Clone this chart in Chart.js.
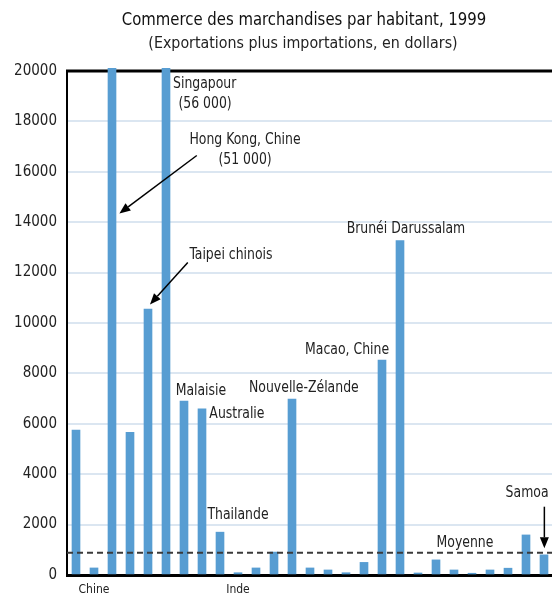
<!DOCTYPE html>
<html>
<head>
<meta charset="utf-8">
<script src="https://cdn.jsdelivr.net/npm/chart.js@4.4.1/dist/chart.umd.min.js"></script>
<style>
html,body{margin:0;padding:0;overflow:hidden;background:#fff;}
#wrap{width:556px;height:598px;}
</style>
</head>
<body>
<div id="wrap"><canvas id="c" width="556" height="598"></canvas></div>
<script>
// ---- data ----
const categories = ['', 'Chine', 'Hong Kong, Chine', '', 'Taipei chinois', 'Singapour', 'Malaisie', 'Australie', 'Thailande', 'Inde',
  '', '', 'Nouvelle-Zélande', '', '', '', '', 'Macao, Chine', 'Brunéi Darussalam', '',
  '', '', '', '', '', '', 'Samoa'];
const tickLabels = ['', 'Chine', '', '', '', '', '', '', '', 'Inde',
  '', '', '', '', '', '', '', '', '', '',
  '', '', '', '', '', '', ''];
const values = [5750, 280, 51000, 5660, 10550, 56000, 6900, 6590, 1700, 90,
  280, 910, 6980, 280, 200, 90, 500, 8530, 13270, 80,
  600, 200, 70, 200, 270, 1590, 800];
const averageValue = 885;
const yTickValues = [0, 2000, 4000, 6000, 8000, 10000, 12000, 14000, 16000, 18000, 20000];
const titleText = 'Commerce des marchandises par habitant, 1999';
const subtitleText = '(Exportations plus importations, en dollars)';

// annotation texts anchored in data space (x = category index, y = value)
const notes = [
  {text: 'Singapour', x: 5.39, y: 19480, align: 'left'},
  {text: '(56 000)', x: 7.17, y: 18690, align: 'center'},
  {text: 'Hong Kong, Chine', x: 9.39, y: 17270, align: 'center'},
  {text: '(51 000)', x: 9.39, y: 16480, align: 'center'},
  {text: 'Taipei chinois', x: 8.61, y: 12710, align: 'center'},
  {text: 'Malaisie', x: 6.94, y: 7290, align: 'center'},
  {text: 'Australie', x: 8.94, y: 6405, align: 'center'},
  {text: 'Thailande', x: 9.0, y: 2381, align: 'center'},
  {text: 'Nouvelle-Zélande', x: 12.66, y: 7420, align: 'center'},
  {text: 'Macao, Chine', x: 15.06, y: 8952, align: 'center'},
  {text: 'Brunéi Darussalam', x: 18.33, y: 13730, align: 'center'},
  {text: 'Moyenne', x: 21.61, y: 1294, align: 'center'},
  {text: 'Samoa', x: 25.06, y: 3242, align: 'center'}
];
const arrows = [
  {x1: 6.71, y1: 16647, x2: 2.41, y2: 14345},
  {x1: 6.21, y1: 12397, x2: 4.11, y2: 10734},
  {x1: 26.02, y1: 2710, x2: 26.02, y2: 1059}
];

const FONT = "'Liberation Sans Narrow', 'DejaVu Sans Condensed', 'Liberation Sans', sans-serif";

function narrowText(ctx, text, x, y, size, k, align, color) {
  ctx.save();
  ctx.font = size + 'px ' + FONT;
  ctx.fillStyle = color;
  ctx.textAlign = align;
  ctx.textBaseline = 'middle';
  ctx.translate(x, y);
  ctx.scale(k, 1);
  ctx.fillText(text, 0, 0);
  ctx.restore();
}

const decor = {
  id: 'decor',
  beforeDatasetsDraw(chart) {
    const {ctx, chartArea} = chart;
    ctx.save();
    ctx.strokeStyle = '#000';
    ctx.lineWidth = 3;
    ctx.beginPath();
    ctx.moveTo(chartArea.left - 1, chartArea.top);
    ctx.lineTo(chartArea.right + 2, chartArea.top);
    ctx.stroke();
    ctx.restore();
  },
  afterDatasetsDraw(chart) {
    const {ctx, chartArea, scales} = chart;
    const xs = scales.x, ys = scales.y;
    ctx.save();
    // average dashed line
    const ya = ys.getPixelForValue(averageValue);
    ctx.strokeStyle = '#3a3a3a';
    ctx.lineWidth = 2;
    ctx.setLineDash([6, 4]);
    ctx.beginPath();
    ctx.moveTo(chartArea.left, ya);
    ctx.lineTo(chartArea.right, ya);
    ctx.stroke();
    ctx.setLineDash([]);
    // notes
    notes.forEach(n => {
      narrowText(ctx, n.text, xs.getPixelForValue(n.x), ys.getPixelForValue(n.y), 16, 0.865, n.align, '#222');
    });
    // arrows
    ctx.strokeStyle = '#000';
    ctx.fillStyle = '#000';
    ctx.lineWidth = 1.5;
    arrows.forEach(a => {
      const x1 = xs.getPixelForValue(a.x1), y1 = ys.getPixelForValue(a.y1);
      const x2 = xs.getPixelForValue(a.x2), y2 = ys.getPixelForValue(a.y2);
      const ang = Math.atan2(y2 - y1, x2 - x1);
      const L = 11, W = 4.5;
      const bx = x2 - L * Math.cos(ang), by = y2 - L * Math.sin(ang);
      ctx.beginPath();
      ctx.moveTo(x1, y1);
      ctx.lineTo(bx, by);
      ctx.stroke();
      ctx.beginPath();
      ctx.moveTo(x2, y2);
      ctx.lineTo(bx + W * Math.sin(ang), by - W * Math.cos(ang));
      ctx.lineTo(bx - W * Math.sin(ang), by + W * Math.cos(ang));
      ctx.closePath();
      ctx.fill();
    });
    ctx.restore();
  },
  afterDraw(chart) {
    const {ctx, chartArea} = chart;
    const cx = (chartArea.left + chartArea.right) / 2 - 6;
    narrowText(ctx, titleText, cx, 20, 18, 0.92, 'center', '#111');
    narrowText(ctx, subtitleText, cx - 1, 44, 16.5, 0.96, 'center', '#222');
  }
};

new Chart(document.getElementById('c'), {
  type: 'bar',
  data: {
    labels: tickLabels,
    datasets: [{
      data: values,
      backgroundColor: '#579dd2',
      borderWidth: 0,
      barThickness: 8,
      clip: {left: 0, top: 3, right: 0, bottom: 0}
    }]
  },
  options: {
    responsive: false,
    animation: false,
    devicePixelRatio: 1,
    layout: {padding: {top: 71, left: 0, right: 3, bottom: 0}},
    plugins: {legend: {display: false}, tooltip: {enabled: false}, title: {display: false}},
    scales: {
      x: {
        offset: true,
        grid: {display: false, drawTicks: false},
        border: {color: '#000', width: 3},
        ticks: {autoSkip: false, maxRotation: 0, minRotation: 0, padding: 8, color: '#222',
          font: {family: FONT, size: 12}},
        afterFit(scale) { scale.height = 23; }
      },
      y: {
        min: 0, max: 20000,
        afterBuildTicks(scale) { scale.ticks = yTickValues.map(v => ({value: v})); },
        grid: {color: '#dbe6f1', lineWidth: 2, drawTicks: false},
        border: {color: '#000', width: 2},
        ticks: {padding: 10, color: '#222', font: {family: FONT, size: 15},
          callback: v => String(v)},
        afterFit(scale) { scale.width = 67; }
      }
    }
  },
  plugins: [decor]
});
</script>
</body>
</html>
